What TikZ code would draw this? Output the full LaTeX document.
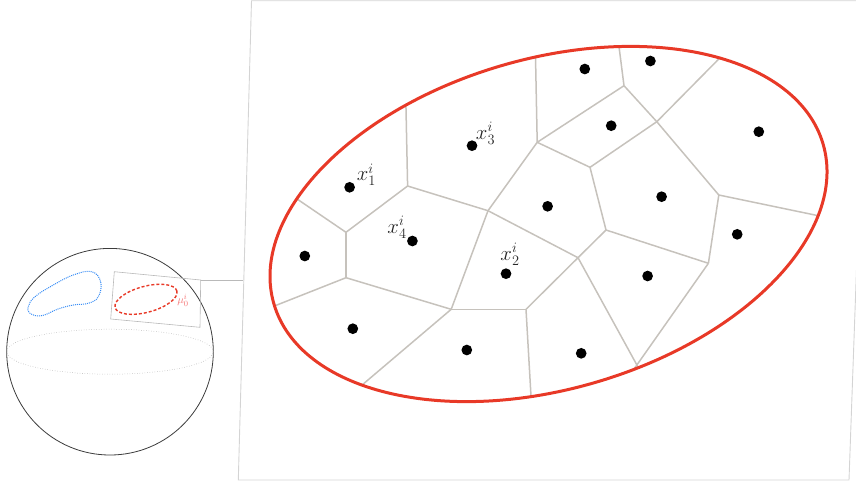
\documentclass[tikz,border=0pt]{standalone}
\definecolor{redmain}{RGB}{232,57,39}
\definecolor{vgray}{RGB}{198,194,188}
\definecolor{framegray}{RGB}{212,212,212}
\definecolor{sframegray}{RGB}{185,185,185}
\definecolor{sphereline}{RGB}{60,60,60}
\definecolor{blobblue}{RGB}{55,140,245}
\definecolor{mulabel}{RGB}{245,115,115}
\tikzset{
  dotnode/.style={circle,fill=black,inner sep=0pt,minimum size=10.7pt},
  vedge/.style={draw=vgray,line width=1.5pt},
  xlabel/.style={inner sep=0pt,text=black!85,font=\fontsize{20}{24}\selectfont},
  bigframe/.style={draw=framegray,line width=0.9pt},
  smallframe/.style={draw=sframegray,line width=0.6pt},
}
\begin{document}
\begin{tikzpicture}[x=1pt,y=-1pt]
\useasboundingbox (0,0) rectangle (856,488);
% big frame
\coordinate (bfTL) at (251.5,0.7);
\coordinate (bfTR) at (866,0.7);
\coordinate (bfBR) at (849,480);
\coordinate (bfBL) at (238.3,480);
\draw[bigframe] (bfTL) -- (bfTR) -- (bfBR) -- (bfBL) -- cycle;
% small sphere
\coordinate (sc) at (110,351.7);
\draw[sphereline,line width=0.8pt] (sc) circle [radius=103.3pt];
\draw[gray!75,dotted,line width=0.5pt] (sc) ellipse [x radius=103.3pt,y radius=22.5pt];
% blue blob
\draw[blobblue,densely dotted,line width=1pt] plot[smooth cycle,tension=0.7] coordinates {
 (91.7,271.7) (100.7,282) (98.3,296.7) (88.3,303.3) (73.3,305) (58,309)
 (41.7,315.7) (30,313.3) (28.3,306.7) (35,296.7) (53.3,285) (73.3,275)};
% small frame
\coordinate (sfTL) at (114.3,271.7);
\coordinate (sfTR) at (200.7,280);
\coordinate (sfBR) at (200,327.3);
\coordinate (sfBL) at (110.7,319);
\draw[smallframe] (sfTL) -- (sfTR) -- (sfBR) -- (sfBL) -- cycle;
\coordinate (bfL) at (243.4,280);
\draw[smallframe] (sfTR) -- (bfL);
\draw[redmain,line width=1.4pt,dash pattern=on 3pt off 2pt,shift={(146,299.3)},rotate=15]
  (0,0) ellipse [x radius=32pt,y radius=13pt];
\node[inner sep=0pt,text=mulabel,font=\fontsize{11}{13}\selectfont] (mu) at (183,300) {$\mu_0^i$};
% Voronoi vertices
\coordinate (A) at (405.8,99);
\coordinate (B) at (407.6,186);
\coordinate (C) at (346,232.3);
\coordinate (D) at (293.4,196.5);
\coordinate (E) at (346,277.7);
\coordinate (F) at (267.8,308.6);
\coordinate (G) at (488,210.7);
\coordinate (H) at (451.2,309.3);
\coordinate (I) at (357.1,389.2);
\coordinate (J) at (526,309.3);
\coordinate (K) at (531.3,401.3);
\coordinate (L) at (578,257.7);
\coordinate (M) at (606,230);
\coordinate (N) at (639.8,370.3);
\coordinate (O) at (708.4,263.3);
\coordinate (N2) at (634.4,368.5);
\coordinate (Q) at (718.8,195);
\coordinate (R) at (822.6,216.6);
\coordinate (S) at (656.8,121.7);
\coordinate (T) at (724.4,53.3);
\coordinate (U) at (624,85.7);
\coordinate (V) at (618.2,40.4);
\coordinate (W) at (537.2,142.3);
\coordinate (X) at (535.4,51.3);
\coordinate (Y) at (590,167.3);
\begin{scope}
\clip[shift={(548.5,224)},rotate=16.2] (0,0) ellipse [x radius=286pt,y radius=165.2pt];
\draw[vedge] (A) -- (B);
\draw[vedge] (B) -- (C);
\draw[vedge] (C) -- (D);
\draw[vedge] (C) -- (E);
\draw[vedge] (E) -- (F);
\draw[vedge] (E) -- (H);
\draw[vedge] (B) -- (G);
\draw[vedge] (G) -- (H);
\draw[vedge] (H) -- (I);
\draw[vedge] (H) -- (J);
\draw[vedge] (J) -- (K);
\draw[vedge] (J) -- (L);
\draw[vedge] (G) -- (L);
\draw[vedge] (G) -- (W);
\draw[vedge] (W) -- (X);
\draw[vedge] (W) -- (U);
\draw[vedge] (U) -- (V);
\draw[vedge] (U) -- (S);
\draw[vedge] (S) -- (T);
\draw[vedge] (W) -- (Y);
\draw[vedge] (Y) -- (S);
\draw[vedge] (Y) -- (M);
\draw[vedge] (M) -- (L);
\draw[vedge] (M) -- (O);
\draw[vedge] (L) -- (N);
\draw[vedge] (O) -- (N2);
\draw[vedge] (O) -- (Q);
\draw[vedge] (Q) -- (S);
\draw[vedge] (Q) -- (R);
\end{scope}
% main ellipse
\draw[redmain,line width=3pt,shift={(548.5,224)},rotate=16.2] (0,0) ellipse [x radius=286pt,y radius=165.2pt];
% sites
\node[dotnode] (p1) at (584.8,69) {};
\node[dotnode] (p2) at (650.4,61) {};
\node[dotnode] (p3) at (611.2,125.7) {};
\node[dotnode] (p4) at (758.8,131.7) {};
\node[dotnode] (s3) at (472,145.7) {};
\node[dotnode] (s1) at (349.6,187.3) {};
\node[dotnode] (p5) at (547.6,206.3) {};
\node[dotnode] (p6) at (661.6,196.7) {};
\node[dotnode] (p7) at (737.2,234.3) {};
\node[dotnode] (p8) at (304.8,256) {};
\node[dotnode] (s4) at (412.4,241) {};
\node[dotnode] (s2) at (506,273.7) {};
\node[dotnode] (p9) at (647.6,276) {};
\node[dotnode] (p10) at (352.8,328.7) {};
\node[dotnode] (p11) at (466.8,350) {};
\node[dotnode] (p12) at (581.2,353.3) {};
% labels
\node[xlabel] (l1) at (366.3,174.7) {$x_1^i$};
\node[xlabel] (l3) at (485.5,133.5) {$x_3^i$};
\node[xlabel] (l4) at (397,227.3) {$x_4^i$};
\node[xlabel] (l2) at (510,254.5) {$x_2^i$};
\end{tikzpicture}
\end{document}
